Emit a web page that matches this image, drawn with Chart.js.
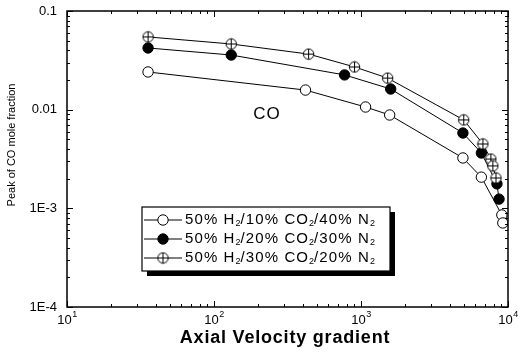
<!DOCTYPE html>
<html>
<head>
<meta charset="utf-8">
<script src="https://cdn.jsdelivr.net/npm/chart.js@4.4.1/dist/chart.umd.min.js"></script>
<style>
  html, body { margin: 0; padding: 0; background: #fff; }
  #wrap { width: 521px; height: 352px; position: relative; }
</style>
</head>
<body>
<div id="wrap"><canvas id="myChart"></canvas></div>
<script>
// axial velocity gradient (x) and peak CO mole fraction (y)
const xOpen = [35.6, 419, 1074, 1567, 4935, 6590, 9080, 9220];
const yOpen = [0.0241, 0.0158, 0.01064, 0.00883, 0.00324, 0.00207, 0.000857, 0.000711];

const xFilled = [35.6, 131, 773, 1592, 4935, 6590, 8410, 8690];
const yFilled = [0.0422, 0.0358, 0.0225, 0.0162, 0.0058, 0.00364, 0.00177, 0.00124];

const xCross = [35.6, 131, 440, 904, 1518, 5000, 6750, 7640, 7890, 8280];
const yCross = [0.0546, 0.0463, 0.0366, 0.0271, 0.0209, 0.00787, 0.00449, 0.00316, 0.00269, 0.00203];

const xTicks = [10, 100, 1000, 10000];
const xTickExp = ['1', '2', '3', '4'];
const yTicks = [0.0001, 0.001, 0.01, 0.1];
const yTickLabels = ['1E-4', '1E-3', '0.01', '0.1'];

const FONT = "'Liberation Sans', Arial, sans-serif";

function pts(xs, ys) {
  return xs.map((x, i) => ({ x: x, y: ys[i] }));
}

// all ticks 1..9 x 10^n between min and max
function logTicks(min, max) {
  let out = [];
  for (let e = Math.round(Math.log10(min)); e < Math.round(Math.log10(max)); e++) {
    for (let m = 1; m < 10; m++) out.push(m * Math.pow(10, e));
  }
  out.push(max);
  return out;
}

// circle with a plus inside
const crossImg = document.createElement('canvas');
crossImg.width = 13;
crossImg.height = 13;
(function () {
  let c = crossImg.getContext('2d');
  c.fillStyle = '#fff';
  c.strokeStyle = '#000';
  c.lineWidth = 1;
  c.beginPath();
  c.arc(6.5, 6.5, 5.2, 0, Math.PI * 2);
  c.fill();
  c.stroke();
  c.beginPath();
  c.moveTo(1.3, 6.5); c.lineTo(11.7, 6.5);
  c.moveTo(6.5, 1.3); c.lineTo(6.5, 11.7);
  c.stroke();
})();

function drawMarker(ctx, kind, x, y) {
  if (kind === 'cross') {
    ctx.drawImage(crossImg, x - 6.5, y - 6.5);
    return;
  }
  ctx.beginPath();
  ctx.arc(x, y, 5.2, 0, Math.PI * 2);
  ctx.fillStyle = kind === 'filled' ? '#000' : '#fff';
  ctx.fill();
  ctx.lineWidth = 1;
  ctx.strokeStyle = '#000';
  ctx.stroke();
}

// text with subscript 2s, parts: [text, isSub]
function drawRich(ctx, parts, x, y) {
  for (const [t, sub] of parts) {
    ctx.font = (sub ? '9px ' : '15px ') + FONT;
    ctx.letterSpacing = sub ? '0px' : '1.1px';
    ctx.fillText(t, x, sub ? y + 4 : y);
    x += ctx.measureText(t).width;
  }
  ctx.letterSpacing = '0px';
}

const legendRows = [
  { kind: 'open', parts: [['50% H', 0], ['2', 1], ['/10% CO', 0], ['2', 1], ['/40% N', 0], ['2', 1]] },
  { kind: 'filled', parts: [['50% H', 0], ['2', 1], ['/20% CO', 0], ['2', 1], ['/30% N', 0], ['2', 1]] },
  { kind: 'cross', parts: [['50% H', 0], ['2', 1], ['/30% CO', 0], ['2', 1], ['/20% N', 0], ['2', 1]] }
];

const decorPlugin = {
  id: 'decor',
  afterDraw(chart) {
    const ctx = chart.ctx;
    const a = chart.chartArea;
    const xs = chart.scales.x;
    const ys = chart.scales.y;
    ctx.save();
    ctx.strokeStyle = '#000';
    ctx.fillStyle = '#000';

    // inward ticks on all four sides
    ctx.lineWidth = 1;
    ctx.beginPath();
    logTicks(10, 10000).forEach(v => {
      let px = Math.round(xs.getPixelForValue(v)) + 0.5;
      let len = xTicks.includes(v) ? 6 : 3;
      ctx.moveTo(px, a.bottom); ctx.lineTo(px, a.bottom - len);
      ctx.moveTo(px, a.top); ctx.lineTo(px, a.top + len);
    });
    logTicks(0.0001, 0.1).forEach(v => {
      let py = Math.round(ys.getPixelForValue(v)) + 0.5;
      let major = yTicks.some(t => Math.abs(t - v) / t < 1e-6);
      let len = major ? 6 : 3;
      ctx.moveTo(a.left, py); ctx.lineTo(a.left + len, py);
      ctx.moveTo(a.right, py); ctx.lineTo(a.right - len, py);
    });
    ctx.stroke();

    // frame
    ctx.lineWidth = 1.5;
    ctx.strokeRect(a.left, a.top, a.right - a.left, a.bottom - a.top);

    // x tick labels 10^n
    ctx.textBaseline = 'middle';
    ctx.textAlign = 'left';
    xTicks.forEach((v, i) => {
      let px = xs.getPixelForValue(v);
      ctx.font = '13px ' + FONT;
      let w1 = ctx.measureText('10').width;
      ctx.font = '9px ' + FONT;
      let w2 = ctx.measureText(xTickExp[i]).width;
      let x0 = px - (w1 + w2) / 2;
      ctx.font = '13px ' + FONT;
      ctx.fillText('10', x0, a.bottom + 13);
      ctx.font = '9px ' + FONT;
      ctx.fillText(xTickExp[i], x0 + w1 + 0.5, a.bottom + 8);
    });

    // axis titles
    ctx.textAlign = 'center';
    ctx.font = 'bold 18px ' + FONT;
    ctx.letterSpacing = '0.8px';
    ctx.fillText('Axial Velocity gradient', 285, 338);
    ctx.letterSpacing = '0px';
    ctx.save();
    ctx.translate(12, 145);
    ctx.rotate(-Math.PI / 2);
    ctx.font = '11px ' + FONT;
    ctx.fillText('Peak of CO mole fraction', 0, 0);
    ctx.restore();

    // in-plot label
    ctx.font = '17px ' + FONT;
    ctx.letterSpacing = '1px';
    ctx.fillText('CO', 267, 114);
    ctx.letterSpacing = '0px';

    // legend box with drop shadow
    const bx = 142, by = 207, bw = 248, bh = 64;
    ctx.fillRect(bx + 5, by + 5, bw, bh);
    ctx.fillStyle = '#fff';
    ctx.fillRect(bx, by, bw, bh);
    ctx.lineWidth = 1.2;
    ctx.strokeRect(bx, by, bw, bh);
    legendRows.forEach((r, i) => {
      let ry = by + 13 + i * 19;
      ctx.lineWidth = 1;
      ctx.beginPath();
      ctx.moveTo(bx + 2, ry); ctx.lineTo(bx + 40, ry);
      ctx.stroke();
      drawMarker(ctx, r.kind, bx + 21, ry);
      ctx.fillStyle = '#000';
      ctx.textAlign = 'left';
      drawRich(ctx, r.parts, bx + 43, ry);
    });
    ctx.restore();
  }
};

const ctx = document.getElementById('myChart');
new Chart(ctx, {
  type: 'line',
  data: {
    datasets: [
      {
        label: '50% H2/10% CO2/40% N2',
        data: pts(xOpen, yOpen),
        borderColor: '#000', borderWidth: 1,
        pointStyle: 'circle', pointRadius: 5.2,
        pointBackgroundColor: '#fff', pointBorderColor: '#000', pointBorderWidth: 1,
        order: 2
      },
      {
        label: '50% H2/20% CO2/30% N2',
        data: pts(xFilled, yFilled),
        borderColor: '#000', borderWidth: 1,
        pointStyle: 'circle', pointRadius: 5.2,
        pointBackgroundColor: '#000', pointBorderColor: '#000', pointBorderWidth: 1,
        order: 1
      },
      {
        label: '50% H2/30% CO2/20% N2',
        data: pts(xCross, yCross),
        borderColor: '#000', borderWidth: 1,
        pointStyle: crossImg, pointRadius: 5.2,
        order: 0
      }
    ]
  },
  options: {
    responsive: true,
    maintainAspectRatio: false,
    animation: false,
    devicePixelRatio: 1,
    layout: { padding: { top: 11, right: 13, left: 0, bottom: 0 } },
    plugins: { legend: { display: false }, tooltip: { enabled: false } },
    scales: {
      x: {
        type: 'logarithmic',
        min: 10, max: 10000,
        afterBuildTicks: s => { s.ticks = xTicks.map(v => ({ value: v })); },
        afterFit: s => { s.height = 45; s.paddingLeft = 0; s.paddingRight = 0; },
        ticks: { display: false },
        grid: { display: false, drawTicks: false },
        border: { display: false }
      },
      y: {
        type: 'logarithmic',
        min: 0.0001, max: 0.1,
        afterBuildTicks: s => { s.ticks = yTicks.map(v => ({ value: v })); },
        afterFit: s => { s.width = 67; s.paddingTop = 0; s.paddingBottom = 0; },
        ticks: {
          autoSkip: false,
          padding: 10,
          color: '#000',
          font: { family: FONT, size: 13 },
          callback: (v, i) => yTickLabels[i]
        },
        grid: { display: false, drawTicks: false },
        border: { display: false }
      }
    }
  },
  plugins: [decorPlugin]
});
</script>
</body>
</html>
